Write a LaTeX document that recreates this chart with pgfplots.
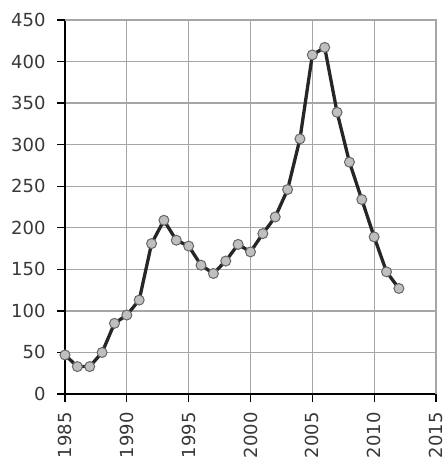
\documentclass[border=0pt]{standalone}
\usepackage{pgfplots}
\pgfplotsset{compat=1.18}
\usepackage{fontspec}
\setmainfont{DejaVu Sans}
\definecolor{txt}{HTML}{383838}
\definecolor{gridc}{HTML}{A6A6A6}
\begin{document}
\begin{tikzpicture}
\begin{axis}[
  at={(0pt,0pt)}, anchor=origin,
  scale only axis,
  width=371pt, height=374pt,
  xmin=1985, xmax=2015, ymin=0, ymax=450,
  xtick={1985,1990,...,2015},
  ytick={0,50,...,450},
  xticklabel style={rotate=90, anchor=east, font=\fontsize{18}{18}\selectfont, text=txt},
  yticklabel style={font=\fontsize{18}{18}\selectfont, text=txt},
  xticklabel shift=7pt,
  yticklabel shift=8pt,
  /pgf/number format/assume math mode=true,
  /pgf/number format/1000 sep={},
  grid=major,
  major grid style={gridc, line width=1.3pt},
  axis x line*=bottom, axis y line*=left,
  axis line style={black, line width=1.3pt, -},
  tick style={black, line width=1.3pt},
  tick align=outside,
  major tick length=8pt,
  clip=false,
]
\addplot[black!85, line width=3.3pt, mark=*, mark size=5pt,
  mark options={fill=black!25, draw=black!60, line width=1pt}] coordinates {
(1985,47) (1986,33) (1987,33) (1988,50) (1989,85) (1990,95) (1991,113)
(1992,181) (1993,209) (1994,185) (1995,178) (1996,155) (1997,145)
(1998,160) (1999,180) (2000,171) (2001,193) (2002,213) (2003,246)
(2004,307) (2005,408) (2006,417) (2007,339) (2008,279) (2009,234)
(2010,189) (2011,147) (2012,127)
};
\draw[gridc, line width=1.3pt] (axis cs:1985,450) -- (axis cs:2015,450) -- (axis cs:2015,0);
\end{axis}
\pgfresetboundingbox
\useasboundingbox (-65pt,-70pt) rectangle (381pt,394pt);
\end{tikzpicture}
\end{document}
